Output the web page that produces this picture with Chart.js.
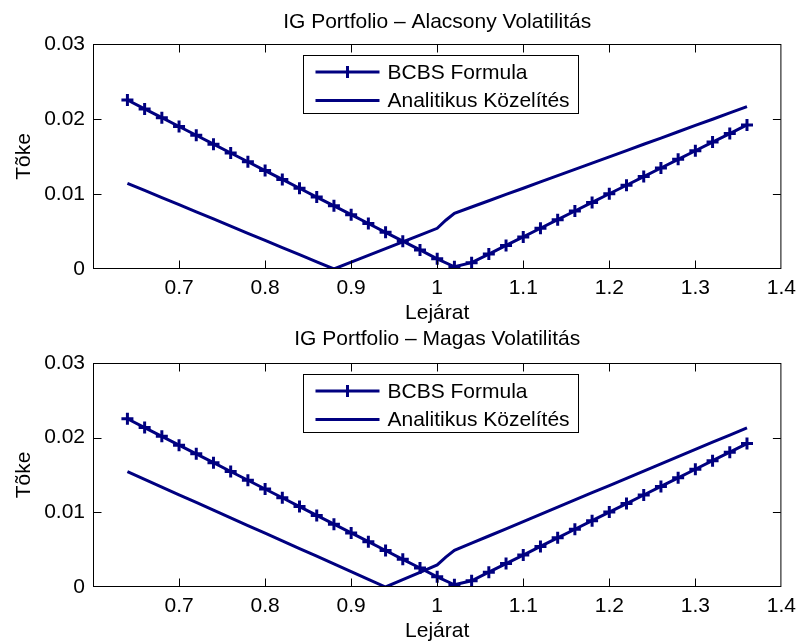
<!DOCTYPE html>
<html>
<head>
<meta charset="utf-8">
<script src="https://cdn.jsdelivr.net/npm/chart.js@4.4.1/dist/chart.umd.min.js"></script>
<style>
  html, body { margin: 0; padding: 0; background: #fff; }
  #wrap { position: relative; width: 803px; height: 644px; }
  canvas { position: absolute; left: 0; }
</style>
</head>
<body>
<div id="wrap">
  <canvas id="low" width="803" height="326" style="top:0"></canvas>
  <canvas id="high" width="803" height="318" style="top:326px"></canvas>
</div>
<script>
// Lejárat grid of the BCBS formula
const maturities = [0.64, 0.66, 0.68, 0.70, 0.72, 0.74, 0.76, 0.78, 0.80, 0.82, 0.84, 0.86, 0.88,
  0.90, 0.92, 0.94, 0.96, 0.98, 1.00, 1.02, 1.04, 1.06, 1.08, 1.10, 1.12, 1.14, 1.16, 1.18,
  1.20, 1.22, 1.24, 1.26, 1.28, 1.30, 1.32, 1.34, 1.36];

// same grid, plus an extra point at 1.01 where the approximation bends
const analyticMaturities = [0.64, 0.66, 0.68, 0.70, 0.72, 0.74, 0.76, 0.78, 0.80, 0.82, 0.84, 0.86, 0.88,
  0.90, 0.92, 0.94, 0.96, 0.98, 1.00, 1.01, 1.02, 1.04, 1.06, 1.08, 1.10, 1.12, 1.14, 1.16, 1.18,
  1.20, 1.22, 1.24, 1.26, 1.28, 1.30, 1.32, 1.34, 1.36];

const bcbsCapital = [0.02253, 0.02135, 0.02018, 0.01900, 0.01783, 0.01665, 0.01547, 0.01430, 0.01312,
  0.01195, 0.01077, 0.00959, 0.00842, 0.00724, 0.00607, 0.00489, 0.00371, 0.00254, 0.00136, 0.00030,
  0.00084, 0.00199, 0.00314, 0.00428, 0.00543, 0.00658, 0.00773, 0.00888, 0.01003, 0.01117, 0.01232,
  0.01347, 0.01462, 0.01577, 0.01692, 0.01806, 0.01921];

const analyticLowVol = [0.01143, 0.01048, 0.00953, 0.00857, 0.00762, 0.00667, 0.00572, 0.00476, 0.00381,
  0.00286, 0.00191, 0.00095, 0.00000, 0.00091, 0.00181, 0.00272, 0.00362, 0.00453, 0.00543, 0.00650,
  0.00743, 0.00827, 0.00910, 0.00994, 0.01077, 0.01161, 0.01245, 0.01328, 0.01412, 0.01496, 0.01579,
  0.01663, 0.01746, 0.01830, 0.01914, 0.01997, 0.02081, 0.02164];

const analyticHighVol = [0.01544, 0.01441, 0.01338, 0.01235, 0.01132, 0.01029, 0.00926, 0.00823, 0.00721,
  0.00618, 0.00515, 0.00412, 0.00309, 0.00206, 0.00103, 0.00000, 0.00098, 0.00196, 0.00295, 0.00400,
  0.00490, 0.00587, 0.00683, 0.00780, 0.00876, 0.00973, 0.01069, 0.01166, 0.01263, 0.01359, 0.01456,
  0.01552, 0.01649, 0.01746, 0.01842, 0.01939, 0.02035, 0.02132];

const xTicks = [0.7, 0.8, 0.9, 1.0, 1.1, 1.2, 1.3, 1.4];
const yTicks = [0, 0.01, 0.02, 0.03];

const seriesNames = ['BCBS Formula', 'Analitikus Közelítés'];
const titles = ['IG Portfolio – Alacsony Volatilitás', 'IG Portfolio – Magas Volatilitás'];

const NAVY = '#000080';
const FONT = { family: '"Liberation Sans", Arial, Helvetica, sans-serif', size: 21 };

Chart.defaults.color = '#000';
Chart.defaults.font = FONT;

const toPoints = (xs, ys) => xs.map((x, i) => ({ x: x, y: ys[i] }));
const fmt = v => String(+v.toFixed(3));

// box round the axes, inward ticks on all four sides, and the legend inside the plot
const matlabAxes = {
  id: 'matlabAxes',
  afterDatasetsDraw(chart) {
    const { ctx, chartArea: a, scales: { x, y } } = chart;
    const L = a.left + 0.5, R = a.right - 0.5, T = a.top + 0.5, B = a.bottom - 0.5;
    ctx.save();
    ctx.strokeStyle = '#000';
    ctx.lineWidth = 1;
    ctx.strokeRect(L, T, R - L, B - T);
    ctx.beginPath();
    x.ticks.forEach(t => {
      const px = Math.round(x.getPixelForValue(t.value)) + 0.5;
      if (px <= L + 1 || px >= R - 1) return;
      ctx.moveTo(px, B); ctx.lineTo(px, B - 8);
      ctx.moveTo(px, T); ctx.lineTo(px, T + 8);
    });
    y.ticks.forEach(t => {
      const py = Math.round(y.getPixelForValue(t.value)) + 0.5;
      if (py <= T + 1 || py >= B - 1) return;
      ctx.moveTo(L, py); ctx.lineTo(L + 8, py);
      ctx.moveTo(R, py); ctx.lineTo(R - 8, py);
    });
    ctx.stroke();

    // legend
    const lx = Math.round(a.left + 210) + 0.5, ly = Math.round(a.top + 11) + 0.5;
    const w = 275, h = 58;
    ctx.fillStyle = '#fff';
    ctx.fillRect(lx, ly, w, h);
    ctx.strokeRect(lx, ly, w, h);
    ctx.font = FONT.size + 'px ' + FONT.family;
    ctx.textBaseline = 'middle';
    chart.data.datasets.forEach((ds, i) => {
      const yy = ly + 16.5 + i * 28.5;
      ctx.strokeStyle = ds.borderColor;
      ctx.lineWidth = 3;
      ctx.beginPath();
      ctx.moveTo(lx + 12, yy); ctx.lineTo(lx + 76, yy);
      if (ds.pointRadius > 0) {
        ctx.moveTo(lx + 44, yy - 6); ctx.lineTo(lx + 44, yy + 6);
      }
      ctx.stroke();
      ctx.fillStyle = '#000';
      ctx.fillText(ds.label, lx + 84, yy + 1);
    });
    ctx.restore();
  }
};

function makeChart(id, title, analytic, layout) {
  return new Chart(document.getElementById(id), {
    type: 'line',
    data: {
      datasets: [
        {
          label: seriesNames[0],
          data: toPoints(maturities, bcbsCapital),
          borderColor: NAVY,
          borderWidth: 3,
          pointStyle: 'cross',
          pointRadius: 6,
          pointBorderWidth: 3,
          pointBorderColor: NAVY,
          tension: 0
        },
        {
          label: seriesNames[1],
          data: toPoints(analyticMaturities, analytic),
          borderColor: NAVY,
          borderWidth: 3,
          pointRadius: 0,
          tension: 0
        }
      ]
    },
    options: {
      responsive: false,
      animation: false,
      devicePixelRatio: 1,
      layout: { padding: { left: 0, right: 15, top: 0, bottom: 0 } },
      plugins: {
        legend: { display: false },
        tooltip: { enabled: false },
        title: {
          display: true,
          text: title,
          fullSize: false,   // centre over the plot box, not the whole canvas
          font: { weight: 'normal' },
          padding: layout.titlePad
        }
      },
      scales: {
        x: {
          type: 'linear',
          min: 0.6,
          max: 1.4,
          afterBuildTicks: s => { s.ticks = xTicks.map(v => ({ value: v })); },
          afterFit: s => { s.height = layout.xHeight; },
          ticks: { padding: 7, maxRotation: 0, autoSkip: false, callback: fmt },
          grid: { display: false, drawTicks: false },
          border: { display: false },
          title: { display: true, text: 'Lejárat', padding: { top: 0, bottom: 0.4 } }
        },
        y: {
          type: 'linear',
          min: 0,
          max: 0.03,
          afterBuildTicks: s => { s.ticks = yTicks.map(v => ({ value: v })); },
          afterFit: s => { s.width = 93; },
          ticks: { padding: 8, callback: fmt },
          grid: { display: false, drawTicks: false },
          border: { display: false },
          title: { display: true, text: 'Tõke', padding: { top: 11.4, bottom: 0 } }
        }
      }
    },
    plugins: [matlabAxes]
  });
}

makeChart('low', titles[0], analyticLowVol, { titlePad: { top: 9.4, bottom: 9.4 }, xHeight: 57 });
makeChart('high', titles[1], analyticHighVol, { titlePad: { top: 0.4, bottom: 11.4 }, xHeight: 57 });
</script>
</body>
</html>
